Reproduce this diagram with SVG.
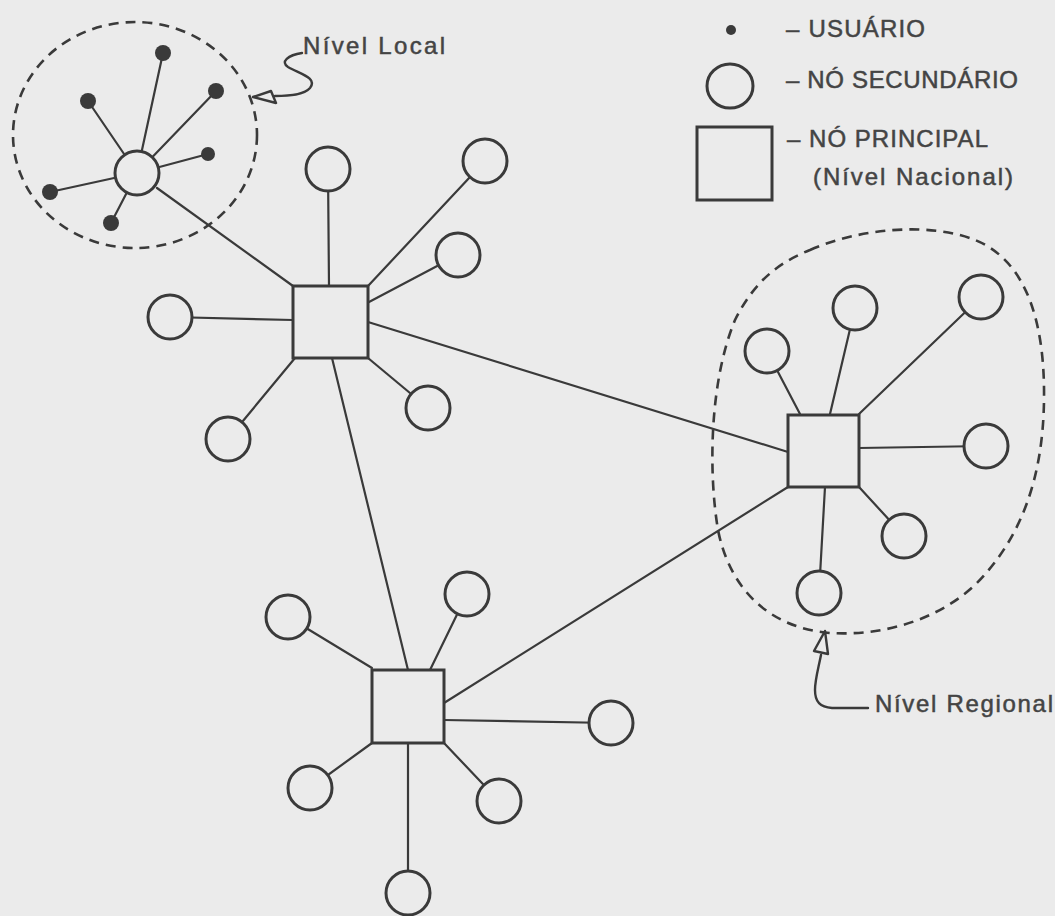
<svg xmlns="http://www.w3.org/2000/svg" width="1055" height="916" viewBox="0 0 1055 916">
<style>
.bg{fill:#ebebeb}
.ln{stroke:#3a3a3a;stroke-width:2.2;fill:none;stroke-linecap:round}
.sec{fill:#ebebeb;stroke:#3a3a3a;stroke-width:3}
.pri{fill:#ebebeb;stroke:#3a3a3a;stroke-width:3}
.usr{fill:#3a3a3a;stroke:none}
.dash{fill:none;stroke:#3a3a3a;stroke-width:2.6;stroke-dasharray:10 7}
.lbl{font-family:"Liberation Sans",Arial,sans-serif;font-size:24px;fill:#444;stroke:#444;stroke-width:0.5}
.ptr{fill:none;stroke:#3a3a3a;stroke-width:2.4;stroke-linejoin:round;stroke-linecap:round}
</style>
<rect class="bg" x="0" y="0" width="1055" height="916"/>

<!-- zone outlines -->
<g id="zone-local">
<ellipse class="dash" cx="135" cy="135" rx="122" ry="113"/>
<path class="ptr" d="M302,53 C288,55 280,62 288,67 C300,74 318,78 310,88 C304,95 290,96 275,96"/>
<path class="ptr" d="M253,97 L271,91 L276,103 Z"/>
<text class="lbl" x="303" y="54" textLength="142" lengthAdjust="spacing">Nível Local</text>
</g>
<g id="zone-regional">
<path class="dash" d="M810,250 C860,228 930,222 975,240 C1030,262 1045,330 1044,400 C1043,480 1020,540 975,585 C935,622 880,636 830,633 C770,628 730,590 718,530 C708,470 710,380 735,320 C755,280 780,262 810,250 Z"/>
<path class="ptr" d="M821,655 C818,670 815,680 815,690 C815,702 820,707 832,708 L868,708"/>
<path class="ptr" d="M825,631 L814,651 L828,654 Z"/>
<text class="lbl" x="875" y="712" textLength="178" lengthAdjust="spacing">Nível Regional</text>
</g>

<!-- connectors -->
<g id="connectors" class="ln">
<line x1="137" y1="173" x2="163" y2="53"/>
<line x1="137" y1="173" x2="88" y2="101"/>
<line x1="137" y1="173" x2="216" y2="91"/>
<line x1="137" y1="173" x2="208" y2="154"/>
<line x1="137" y1="173" x2="50" y2="192"/>
<line x1="137" y1="173" x2="111" y2="223"/>
<line x1="157" y1="188" x2="293" y2="286"/>
<line x1="329" y1="286" x2="328" y2="169"/>
<line x1="368" y1="286" x2="485" y2="161"/>
<line x1="369" y1="302" x2="458" y2="255"/>
<line x1="293" y1="320" x2="170" y2="317"/>
<line x1="295" y1="358" x2="228" y2="439"/>
<line x1="368" y1="358" x2="428" y2="408"/>
<line x1="368" y1="322" x2="788" y2="452"/>
<line x1="332" y1="358" x2="408" y2="670"/>
<line x1="444" y1="703" x2="788" y2="487"/>
<line x1="800" y1="414" x2="767" y2="351"/>
<line x1="830" y1="414" x2="855" y2="308"/>
<line x1="859" y1="414" x2="981" y2="297"/>
<line x1="859" y1="448" x2="986" y2="446"/>
<line x1="859" y1="487" x2="904" y2="536"/>
<line x1="825" y1="487" x2="819" y2="593"/>
<line x1="372" y1="668" x2="288" y2="617"/>
<line x1="430" y1="670" x2="467" y2="594"/>
<line x1="444" y1="720" x2="611" y2="723"/>
<line x1="444" y1="743" x2="499" y2="801"/>
<line x1="372" y1="743" x2="310" y2="788"/>
<line x1="408" y1="743" x2="408" y2="893"/>
</g>

<!-- local level -->
<g id="local-hub"><circle class="sec" cx="137" cy="173" r="22"/></g>
<g id="user-1"><circle class="usr" cx="163" cy="53" r="8"/></g>
<g id="user-2"><circle class="usr" cx="88" cy="101" r="8"/></g>
<g id="user-3"><circle class="usr" cx="216" cy="91" r="8"/></g>
<g id="user-4"><circle class="usr" cx="208" cy="154" r="7"/></g>
<g id="user-5"><circle class="usr" cx="50" cy="192" r="8"/></g>
<g id="user-6"><circle class="usr" cx="111" cy="223" r="8"/></g>

<!-- principal nodes -->
<g id="principal-1"><rect class="pri" x="293" y="286" width="75" height="72"/></g>
<g id="principal-2"><rect class="pri" x="788" y="415" width="71" height="72"/></g>
<g id="principal-3"><rect class="pri" x="372" y="670" width="72" height="73"/></g>

<!-- secondary nodes of principal 1 -->
<g id="s1a"><circle class="sec" cx="328" cy="169" r="22"/></g>
<g id="s1b"><circle class="sec" cx="485" cy="161" r="22"/></g>
<g id="s1c"><circle class="sec" cx="458" cy="255" r="22"/></g>
<g id="s1d"><circle class="sec" cx="170" cy="317" r="22"/></g>
<g id="s1e"><circle class="sec" cx="228" cy="439" r="22"/></g>
<g id="s1f"><circle class="sec" cx="428" cy="408" r="22"/></g>

<!-- secondary nodes of principal 2 -->
<g id="s2a"><circle class="sec" cx="767" cy="351" r="22"/></g>
<g id="s2b"><circle class="sec" cx="855" cy="308" r="22"/></g>
<g id="s2c"><circle class="sec" cx="981" cy="297" r="22"/></g>
<g id="s2d"><circle class="sec" cx="986" cy="446" r="22"/></g>
<g id="s2e"><circle class="sec" cx="904" cy="536" r="22"/></g>
<g id="s2f"><circle class="sec" cx="819" cy="593" r="22"/></g>

<!-- secondary nodes of principal 3 -->
<g id="s3a"><circle class="sec" cx="288" cy="617" r="22"/></g>
<g id="s3b"><circle class="sec" cx="467" cy="594" r="22"/></g>
<g id="s3c"><circle class="sec" cx="611" cy="723" r="22"/></g>
<g id="s3d"><circle class="sec" cx="499" cy="801" r="22"/></g>
<g id="s3e"><circle class="sec" cx="310" cy="788" r="22"/></g>
<g id="s3f"><circle class="sec" cx="408" cy="893" r="22"/></g>

<!-- legend -->
<g id="legend">
<circle class="usr" cx="731" cy="30" r="5"/>
<text class="lbl" x="786" y="37" textLength="139" lengthAdjust="spacing">– USUÁRIO</text>
<ellipse class="sec" cx="730" cy="86" rx="23" ry="22"/>
<text class="lbl" x="786" y="88" textLength="232" lengthAdjust="spacing">– NÓ SECUNDÁRIO</text>
<rect class="pri" x="697" y="127" width="75" height="73"/>
<text class="lbl" x="787" y="147" textLength="201" lengthAdjust="spacing">– NÓ PRINCIPAL</text>
<text class="lbl" x="813" y="185" textLength="200" lengthAdjust="spacing">(Nível Nacional)</text>
</g>
</svg>
